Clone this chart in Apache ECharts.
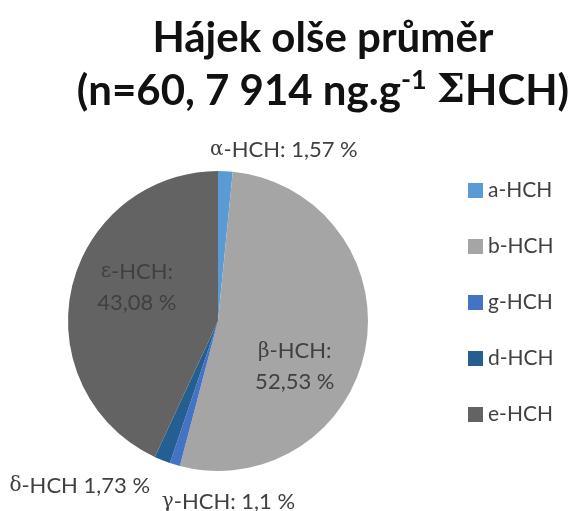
<!DOCTYPE html>
<html>
<head>
<meta charset="utf-8">
<script src="https://cdn.jsdelivr.net/npm/echarts@6/dist/echarts.min.js"></script>
<style>
  html, body { margin: 0; padding: 0; background: #fff; }
  #chart { width: 570px; height: 511px; }
</style>
</head>
<body>
<div id="chart"></div>
<script>
// data
const categories = ['a-HCH', 'b-HCH', 'g-HCH', 'd-HCH', 'e-HCH'];
const greek = ['α', 'β', 'γ', 'δ', 'ε'];
const shares = [1.57, 52.53, 1.1, 1.73, 43.08];
const shareText = ['1,57', '52,53', '1,1', '1,73', '43,08'];
const colors = ['#5b9bd5', '#a5a5a5', '#4472c4', '#255e91', '#636363'];

// label placement per slice (inside / outside) and nudges from the default spot
const labelPos = ['outside', 'inside', 'outside', 'outside', 'inside'];
const labelShift = [[-25, -7], [0, 32], [0, 24], [2, 13], [-5, -17]];
const labelAlign = [null, null, 'left', null, null];

const font = 'Lato, "Open Sans", sans-serif';

const chart = echarts.init(document.getElementById('chart'));

const pieData = categories.map((name, i) => {
  let txt;
  if (i === 3) txt = '{g|' + greek[i] + '}-HCH ' + shareText[i] + ' %';
  else if (labelPos[i] === 'inside') txt = '{g|' + greek[i] + '}-HCH:\n' + shareText[i] + ' %';
  else txt = '{g|' + greek[i] + '}-HCH: ' + shareText[i] + ' %';
  return {
    name: name,
    value: shares[i],
    itemStyle: { color: colors[i] },
    label: { position: labelPos[i], formatter: txt }
  };
});

chart.setOption({
  backgroundColor: '#fff',
  animation: false,
  title: {
    left: 318,
    top: 7,
    textAlign: 'center',
    text: '{t|Hájek olše průměr}\n{t|(n=60, 7 914 ng.g}{sup|-1}{t| }{s|Σ}{t|HCH)}',
    textStyle: {
      rich: {
        t: { fontFamily: font, fontWeight: 'bold', fontSize: 42, color: '#111', lineHeight: 53 },
        sup: { fontFamily: font, fontWeight: 'bold', fontSize: 27, color: '#111', lineHeight: 53, verticalAlign: 'top', padding: [2, 0, 0, 0] },
        s: { fontFamily: '"DejaVu Serif", serif', fontSize: 40, color: '#111', lineHeight: 53 }
      }
    }
  },
  legend: {
    orient: 'vertical',
    left: 463,
    top: 175,
    itemWidth: 15,
    itemHeight: 15,
    itemGap: 35,
    icon: 'rect',
    textStyle: { fontFamily: font, fontSize: 21, color: '#404040' },
    data: categories
  },
  series: [{
    type: 'pie',
    center: [218, 321],
    radius: 150,
    startAngle: 90,
    clockwise: true,
    avoidLabelOverlap: false,
    label: {
      fontFamily: font,
      fontSize: 22,
      color: '#404040',
      lineHeight: 31,
      rich: {
        g: { fontFamily: '"DejaVu Serif", serif', fontSize: 20, color: '#404040' }
      }
    },
    labelLine: { show: false, length: 14, length2: 4 },
    labelLayout: function (params) {
      const i = params.dataIndex;
      const out = { dx: labelShift[i][0], dy: labelShift[i][1] };
      if (labelAlign[i]) out.align = labelAlign[i];
      return out;
    },
    emphasis: { disabled: true },
    data: pieData
  }]
});
</script>
</body>
</html>
